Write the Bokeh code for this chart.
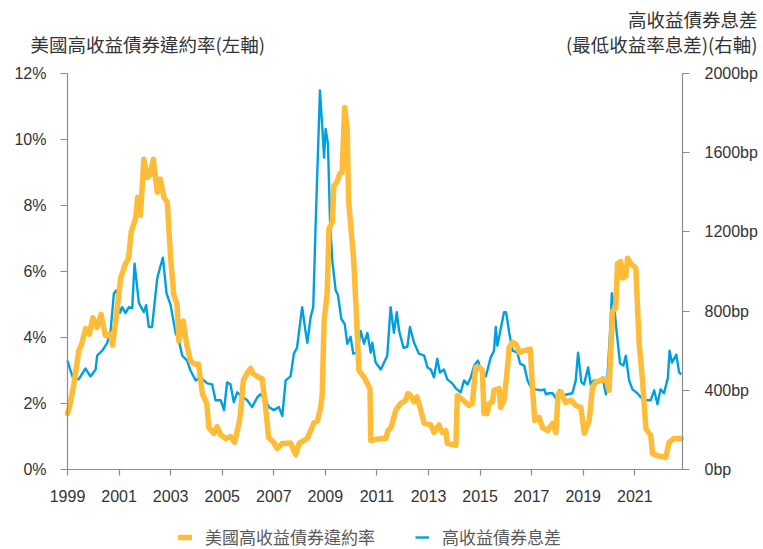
from bokeh.plotting import figure
from bokeh.models import (Range1d, LinearAxis, FixedTicker, PrintfTickFormatter,
                          Legend, LegendItem, Label, ColumnDataSource)
from bokeh.embed import file_html
from bokeh.resources import INLINE

# ---------------- data ----------------
default_year = [
    1999.00, 1999.08, 1999.25, 1999.44, 1999.55, 1999.70, 1999.85, 1999.98, 2000.15, 2000.30,
    2000.47, 2000.67, 2000.75, 2000.93, 2001.06, 2001.25, 2001.37, 2001.47, 2001.64, 2001.72,
    2001.83, 2001.96, 2002.09, 2002.18, 2002.33, 2002.48, 2002.60, 2002.74, 2002.87, 2003.00,
    2003.12, 2003.25, 2003.32, 2003.49, 2003.62, 2003.77, 2003.90, 2004.08, 2004.23, 2004.40,
    2004.48, 2004.67, 2004.80, 2004.94, 2005.13, 2005.33, 2005.48, 2005.65, 2005.71, 2005.82,
    2005.95, 2006.10, 2006.20, 2006.40, 2006.55, 2006.68, 2006.80, 2007.00, 2007.13, 2007.33,
    2007.65, 2007.85, 2007.98, 2008.30, 2008.43, 2008.56, 2008.69, 2008.82, 2008.88, 2008.95,
    2009.07, 2009.14, 2009.27, 2009.33, 2009.45, 2009.56, 2009.65, 2009.75, 2009.85, 2009.90,
    2010.10, 2010.21, 2010.30, 2010.50, 2010.73, 2010.76, 2011.15, 2011.34, 2011.43, 2011.55,
    2011.73, 2011.92, 2012.12, 2012.20, 2012.30, 2012.44, 2012.55, 2012.70, 2012.83, 2013.09,
    2013.21, 2013.41, 2013.53, 2013.67, 2013.73, 2014.06, 2014.12, 2014.31, 2014.57, 2014.70,
    2014.83, 2014.96, 2015.09, 2015.15, 2015.28, 2015.35, 2015.48, 2015.54, 2015.74, 2015.80,
    2015.93, 2016.04, 2016.13, 2016.26, 2016.39, 2016.52, 2016.71, 2016.95, 2017.03, 2017.12,
    2017.29, 2017.42, 2017.62, 2017.81, 2017.94, 2018.03, 2018.13, 2018.32, 2018.52, 2018.71,
    2018.91, 2019.04, 2019.23, 2019.36, 2019.49, 2019.68, 2019.88, 2020.00, 2020.14, 2020.26,
    2020.33, 2020.45, 2020.52, 2020.65, 2020.72, 2020.85, 2021.04, 2021.17, 2021.30, 2021.43,
    2021.62, 2021.69, 2021.88, 2022.20, 2022.33, 2022.52, 2022.80,
]
default_rate = [
    1.70, 1.90, 2.60, 3.60, 3.80, 4.27, 4.10, 4.60, 4.30, 4.70,
    4.06, 4.10, 3.76, 4.90, 5.80, 6.24, 6.40, 7.20, 7.60, 8.25,
    7.70, 9.40, 8.85, 8.90, 9.40, 8.40, 8.80, 8.25, 8.10, 6.40,
    5.30, 5.00, 3.90, 4.50, 3.80, 3.30, 3.20, 3.20, 2.30, 2.00,
    1.27, 1.09, 1.30, 1.05, 0.94, 1.00, 0.82, 1.40, 1.70, 2.70,
    2.90, 3.06, 2.90, 2.80, 2.75, 1.90, 0.97, 0.82, 0.64, 0.79,
    0.80, 0.45, 0.79, 0.94, 1.18, 1.42, 1.47, 1.88, 2.30, 4.50,
    5.33, 7.30, 7.50, 8.60, 8.70, 8.97, 9.00, 10.97, 10.27, 8.15,
    6.33, 4.60, 3.00, 2.80, 2.45, 0.88, 0.94, 0.94, 1.18, 1.27,
    1.80, 2.00, 2.10, 2.30, 2.25, 2.05, 2.20, 1.80, 1.40, 1.35,
    1.12, 1.35, 1.12, 1.18, 0.79, 0.73, 2.24, 2.12, 1.94, 2.00,
    3.10, 3.10, 3.00, 1.70, 1.70, 2.00, 2.05, 2.40, 2.45, 1.88,
    2.10, 2.90, 3.70, 3.85, 3.80, 3.55, 3.60, 3.65, 2.50, 1.48,
    1.58, 1.27, 1.18, 1.40, 1.12, 2.30, 2.35, 2.03, 2.10, 1.94,
    1.88, 1.10, 1.48, 2.50, 2.65, 2.70, 2.75, 2.40, 4.80, 4.90,
    6.24, 6.30, 5.80, 5.85, 6.40, 6.24, 6.10, 3.80, 2.70, 1.24,
    1.03, 0.48, 0.42, 0.36, 0.82, 0.94, 0.94,
]

spread_year = [
    1999.00, 1999.08, 1999.22, 1999.43, 1999.70, 1999.89, 2000.09, 2000.15, 2000.35, 2000.54,
    2000.67, 2000.80, 2000.90, 2001.03, 2001.12, 2001.25, 2001.38, 2001.51, 2001.60, 2001.77,
    2001.96, 2002.05, 2002.15, 2002.28, 2002.48, 2002.58, 2002.70, 2002.84, 2003.00, 2003.19,
    2003.32, 2003.45, 2003.64, 2003.77, 2003.97, 2004.16, 2004.42, 2004.61, 2004.74, 2004.94,
    2005.07, 2005.19, 2005.32, 2005.45, 2005.58, 2005.71, 2005.97, 2006.16, 2006.36, 2006.49,
    2006.68, 2006.81, 2007.00, 2007.20, 2007.33, 2007.46, 2007.65, 2007.78, 2007.90, 2008.10,
    2008.24, 2008.30, 2008.43, 2008.53, 2008.62, 2008.79, 2008.88, 2008.95, 2009.01, 2009.10,
    2009.18, 2009.27, 2009.40, 2009.49, 2009.62, 2009.75, 2009.85, 2009.98, 2010.08, 2010.24,
    2010.37, 2010.50, 2010.63, 2010.76, 2010.82, 2010.95, 2011.15, 2011.40, 2011.53, 2011.66,
    2011.77, 2011.86, 2012.03, 2012.18, 2012.28, 2012.44, 2012.63, 2012.83, 2012.96, 2013.09,
    2013.21, 2013.34, 2013.44, 2013.60, 2013.73, 2013.92, 2014.06, 2014.25, 2014.38, 2014.51,
    2014.64, 2014.77, 2014.92, 2015.05, 2015.22, 2015.41, 2015.54, 2015.61, 2015.67, 2015.80,
    2015.93, 2016.01, 2016.13, 2016.26, 2016.45, 2016.55, 2016.71, 2016.84, 2016.97, 2017.16,
    2017.36, 2017.49, 2017.55, 2017.68, 2017.81, 2017.94, 2018.07, 2018.26, 2018.39, 2018.58,
    2018.71, 2018.80, 2018.93, 2019.03, 2019.19, 2019.29, 2019.42, 2019.62, 2019.75, 2019.88,
    2019.94, 2020.04, 2020.11, 2020.20, 2020.30, 2020.43, 2020.56, 2020.65, 2020.78, 2020.91,
    2021.10, 2021.23, 2021.43, 2021.62, 2021.75, 2021.88, 2022.00, 2022.13, 2022.28, 2022.35,
    2022.44, 2022.61, 2022.72, 2022.80,
]
spread_bp = [
    550, 515, 460, 455, 510, 470, 505, 575, 600, 640,
    700, 890, 905, 790, 820, 790, 820, 815, 1040, 840,
    795, 830, 720, 720, 965, 1015, 1070, 890, 830, 690,
    650, 575, 550, 500, 450, 465, 435, 430, 350, 350,
    300, 440, 430, 340, 390, 375, 350, 315, 365, 380,
    350, 315, 300, 315, 270, 450, 470, 585, 615, 820,
    690, 640, 770, 820, 1225, 1915, 1730, 1575, 1720, 1645,
    1260, 1055, 905, 880, 760, 735, 635, 670, 585, 590,
    700, 635, 690, 590, 640, 540, 505, 575, 820, 690,
    795, 700, 615, 620, 720, 640, 585, 575, 515, 505,
    465, 560, 490, 505, 455, 435, 410, 390, 450, 430,
    465, 525, 550, 490, 470, 565, 600, 720, 625, 710,
    795, 795, 690, 600, 590, 535, 525, 450, 415, 405,
    400, 405, 380, 385, 385, 360, 400, 375, 380, 385,
    450, 590, 440, 430, 515, 430, 450, 440, 465, 380,
    470, 690, 890, 825, 690, 535, 525, 575, 450, 405,
    385, 365, 350, 350, 400, 330, 405, 385, 460, 600,
    540, 580, 490, 480,
]

x_ticks = [1999, 2001, 2003, 2005, 2007, 2009, 2011, 2013, 2015, 2017, 2019, 2021]
left_ticks = [0, 2, 4, 6, 8, 10, 12]
right_ticks = [0, 400, 800, 1200, 1600, 2000]

series_default_name = "美國高收益債券違約率"
series_spread_name = "高收益債券息差"
left_title = "美國高收益債券違約率(左軸)"
right_title_1 = "高收益債券息差"
right_title_2 = "(最低收益率息差)(右軸)"

# ---------------- layout geometry (pixels) ----------------
W, H = 763, 549
PLOT_L, PLOT_R, PLOT_T, PLOT_B = 67, 682, 73, 469
X0, X1 = 1999.0, 2022.85
Y0, Y1 = 0.0, 12.0
S0, S1 = 0.0, 2000.0

ppx = (PLOT_R - PLOT_L) / (X1 - X0)
ppy = (PLOT_B - PLOT_T) / (Y1 - Y0)
pps = (PLOT_B - PLOT_T) / (S1 - S0)
x_range = Range1d(X0 - PLOT_L / ppx, X1 + (W - PLOT_R) / ppx)
y_range = Range1d(Y0 - (H - PLOT_B) / ppy, Y1 + PLOT_T / ppy)
s_range = Range1d(S0 - (H - PLOT_B) / pps, S1 + PLOT_T / pps)

# ---------------- styling ----------------
ORANGE = "#FFBC38"
BLUE = "#00A0E0"
AXIS = "#8C8C8C"
TEXT = "#333333"
NUM_FONT = "'Liberation Sans', Arial, sans-serif"
CJK_FONT = "Noto Sans CJK TC"

p = figure(width=W, height=H, output_backend="svg", toolbar_location=None,
           x_range=x_range, y_range=y_range, min_border=0,
           x_axis_location=None, y_axis_location=None)
p.extra_y_ranges = {"spread": s_range}
p.grid.visible = False
p.outline_line_color = None
p.background_fill_color = "white"
p.border_fill_color = "white"

src_spread = ColumnDataSource(dict(x=spread_year, y=spread_bp))
src_default = ColumnDataSource(dict(x=default_year, y=default_rate))

r_blue = p.line("x", "y", source=src_spread, y_range_name="spread",
                line_color=BLUE, line_width=2.4, line_join="round")
r_orange = p.line("x", "y", source=src_default,
                  line_color=ORANGE, line_width=5.5, line_join="round", line_cap="round")


def style_axis(ax, tick_out=7, standoff=14):
    ax.axis_line_color = AXIS
    ax.axis_line_width = 1.2
    ax.major_tick_line_color = AXIS
    ax.major_tick_line_width = 1.2
    ax.major_tick_in = 0
    ax.major_tick_out = tick_out
    ax.minor_tick_line_color = None
    ax.major_label_text_font = NUM_FONT
    ax.major_label_text_font_size = "16px"
    ax.major_label_text_color = TEXT
    ax.major_label_standoff = standoff


xa = LinearAxis(ticker=FixedTicker(ticks=x_ticks), formatter=PrintfTickFormatter(format="%d"),
                fixed_location=Y0, bounds=(X0, X1))
style_axis(xa, tick_out=6, standoff=14)
p.add_layout(xa, "below")

ya = LinearAxis(ticker=FixedTicker(ticks=left_ticks), formatter=PrintfTickFormatter(format="%d%%"),
                fixed_location=X0, bounds=(Y0, Y1))
style_axis(ya, tick_out=7, standoff=14)
p.add_layout(ya, "left")

yr = LinearAxis(y_range_name="spread", ticker=FixedTicker(ticks=right_ticks),
                formatter=PrintfTickFormatter(format="%dbp"),
                fixed_location=X1, bounds=(S0, S1))
style_axis(yr, tick_out=7, standoff=15)
p.add_layout(yr, "right")

# titles
for txt, x, y, align in [(left_title, 30, H - 43, "left"),
                         (right_title_1, 757, H - 18, "right"),
                         (right_title_2, 757, H - 43, "right")]:
    p.add_layout(Label(x=x, y=y, x_units="screen", y_units="screen", text=txt,
                       text_font=CJK_FONT, text_font_size="18.5px", text_color=TEXT,
                       text_align=align, text_baseline="middle"))

legend = Legend(items=[LegendItem(label=series_default_name, renderers=[r_orange]),
                       LegendItem(label=series_spread_name, renderers=[r_blue])],
                orientation="horizontal", location=(178, 0), spacing=40,
                glyph_width=14, glyph_height=20, label_standoff=13,
                label_text_font=CJK_FONT, label_text_font_size="17px",
                label_text_color="#595959", padding=0, margin=0,
                border_line_alpha=0, background_fill_alpha=0)
p.add_layout(legend)

open("out.html", "w").write(file_html(p, INLINE))
